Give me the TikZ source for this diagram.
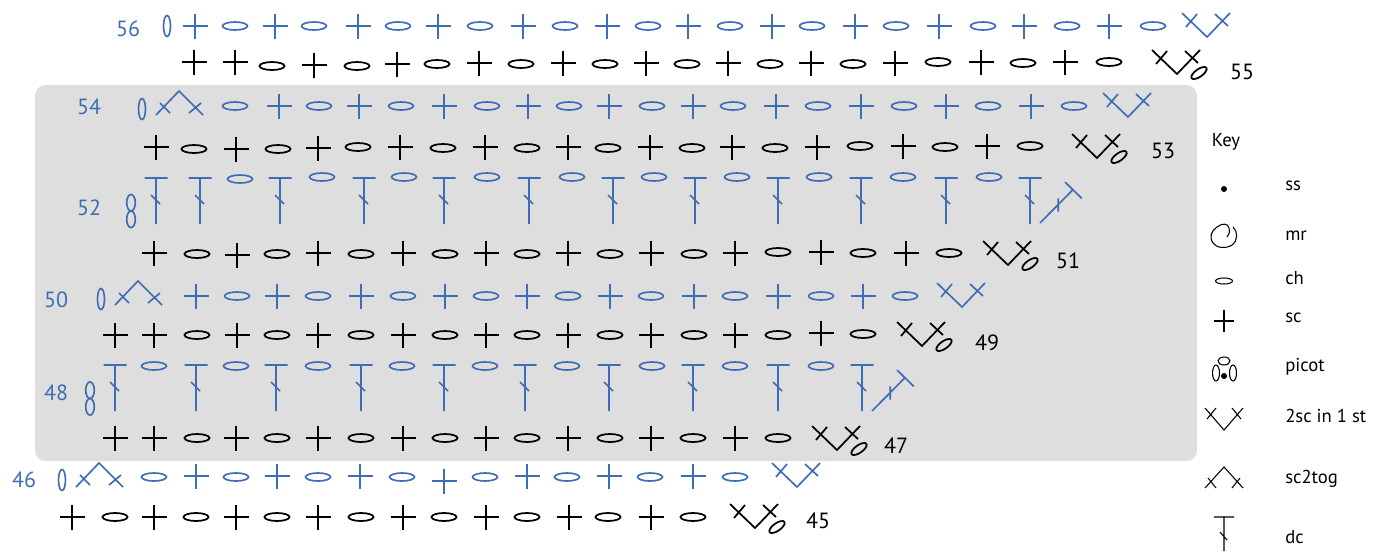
\documentclass[tikz,border=0pt]{standalone}
\usepackage{fontspec}
\setmainfont{PT Sans}
\definecolor{stblue}{HTML}{3F6DB5}
\definecolor{panel}{HTML}{DEDEDE}
\tikzset{
  x=0.75pt,y=-0.75pt,
  bluest/.style={draw=stblue,line width=1.25pt,color=stblue},
  blackst/.style={draw=black,line width=1.3pt},
  keyst/.style={draw=black,line width=0.8pt},
  rownum/.style={font=\fontsize{16.5}{18}\selectfont,text=stblue,inner sep=0pt},
  blacknum/.style={font=\fontsize{16.5}{18}\selectfont,text=black,inner sep=0pt},
  keytext/.style={font=\fontsize{14}{16}\selectfont,text=black,inner sep=0pt,anchor=west},
  scmark/.pic={\draw (-12.5,0) -- (12.5,0) (0,-12.5) -- (0,12.5);},
  chmark/.pic={\draw (0,0) ellipse [x radius=12.5,y radius=4];},
  turnone/.pic={\draw (0,0) ellipse [x radius=3.5,y radius=10.5];},
  turntwo/.pic={\draw (0,-8.3) ellipse [x radius=4.3,y radius=8.3] (0,8.3) ellipse [x radius=4.3,y radius=8.3];},
  incmark/.pic={\draw (-25,-24) -- (0,0) -- (23,-24) (-21,-10) -- (-10,-23) (8,-23) -- (21,-11);},
  incoval/.pic={\draw (-25,-24) -- (0,0) -- (23,-24) (-21,-10) -- (-10,-23) (8,-23) -- (21,-11);
     \draw[rotate around={35:(22,-1)}] (22,-1) ellipse [x radius=9,y radius=3.8];},
  decmark/.pic={\draw (-23,24) -- (0,0) -- (24,24) (-19,12) -- (-9,22) (10,22) -- (22,12);},
  dcmark/.pic={\draw (-11.5,0) -- (11.5,0) (0,0) -- (0,46) (-5,17) -- (4,26);},
  dcslant/.pic={\draw (0,0) -- (33.3,-33.7) (25,-41) -- (41.7,-24.7) (18.3,-24.7) -- (18.3,-11.3);},
}
\begin{document}
\begin{tikzpicture}
\useasboundingbox (0,0) rectangle (1384,551);
\fill[panel,rounded corners=8pt] (35,85) rectangle (1197,461);

% row 56
\foreach \x in {195,275,358,438,523,607,688,772,855,939,1024,1109} \pic[bluest] at (\x,26) {scmark};
\foreach \x in {235,314,398,480,565,648,730,812,896,983,1067,1153} \pic[bluest] at (\x,26) {chmark};
\pic[bluest] at (167,26) {turnone};
\pic[bluest] at (1207,37) {incmark};
\node[rownum] (n56) at (128,29) {56};
% row 55
\foreach \x/\y in {194/62,235/62,314/65,397/64,479/63,563/63,646/63,728/63,811/63,895/63,981/62,1065/62} \pic[blackst] at (\x,\y) {scmark};
\foreach \x/\y in {272/66,357/66,437/64,521/64,605/64,687/64,770/64,853/64,938/62,1023/63,1109/62} \pic[blackst] at (\x,\y) {chmark};
\pic[blackst] at (1177,74) {incoval};
\node[blacknum] (n55) at (1242,72) {55};
% row 54
\foreach \x in {279,359,444,528,609,693,776,861,946,1031} \pic[bluest] at (\x,106) {scmark};
\foreach \x in {235,319,401,487,569,652,733,818,904,988,1074} \pic[bluest] at (\x,106) {chmark};
\pic[bluest] at (142,109) {turnone};
\pic[bluest] at (179,91) {decmark};
\pic[bluest] at (1128,117) {incmark};
\node[rownum] (n54) at (89,107) {54};
% row 53
\foreach \x/\y in {156/147,236/149,318/148,400/147,485/147,568/147,650/147,732/147,817/147,903/146,987/146} \pic[blackst] at (\x,\y) {scmark};
\foreach \x/\y in {194/149,278/149,358/147,443/148,527/148,608/148,692/148,775/148,860/146,945/147,1030/146} \pic[blackst] at (\x,\y) {chmark};
\pic[blackst] at (1097,158) {incoval};
\node[blacknum] (n53) at (1163,151) {53};
% row 52
\foreach \x in {156,200,280,364,444,529,613,695,778,861,946,1030} \pic[bluest] at (\x,178) {dcmark};
\foreach \x/\y in {240/179,322/177,404/177,487/177,572/177,654/177,737/177,819/177,903/177,989/177} \pic[bluest] at (\x,\y) {chmark};
\pic[bluest] at (1040,223) {dcslant};
\pic[bluest] at (131,211) {turntwo};
\node[rownum] (n52) at (89,208) {52};
% row 51
\foreach \x/\y in {154/253,237/255,318/253,403/253,486/253,568/253,651/253,735/253,821/252,906/253} \pic[blackst] at (\x,\y) {scmark};
\foreach \x/\y in {197/254,277/254,361/254,445/254,527/254,610/254,694/254,778/252,863/253,949/253} \pic[blackst] at (\x,\y) {chmark};
\pic[blackst] at (1008,265) {incoval};
\node[blacknum] (n51) at (1068,261) {51};
% row 50
\foreach \x in {196,277,361,445,527,610,694,778,863} \pic[bluest] at (\x,296) {scmark};
\foreach \x in {237,318,403,486,568,651,735,821,905} \pic[bluest] at (\x,296) {chmark};
\pic[bluest] at (101,299) {turnone};
\pic[bluest] at (138,281) {decmark};
\pic[bluest] at (962,307) {incmark};
\node[rownum] (n50) at (56,300) {50};
% row 49
\foreach \x/\y in {115/335,154/335,237/335,318/335,403/335,486/335,568/335,651/335,735/335,821/333} \pic[blackst] at (\x,\y) {scmark};
\foreach \x/\y in {197/335,277/335,361/335,445/335,527/335,610/335,694/335,778/335,863/334} \pic[blackst] at (\x,\y) {chmark};
\pic[blackst] at (922,346) {incoval};
\node[blacknum] (n49) at (987,343) {49};
% row 48
\foreach \x in {115,196,276,361,444,525,609,693,778,862} \pic[bluest] at (\x,365) {dcmark};
\foreach \x in {154,236,318,402,485,567,652,735,821} \pic[bluest] at (\x,366) {chmark};
\pic[bluest] at (872,411) {dcslant};
\pic[bluest] at (90,398.5) {turntwo};
\node[rownum] (n48) at (56,393) {48};
% row 47
\foreach \x in {115,154,236,318,403,486,568,651,735} \pic[blackst] at (\x,438) {scmark};
\foreach \x in {197,277,361,445,527,610,693,778} \pic[blackst] at (\x,438) {chmark};
\pic[blackst] at (837,450) {incoval};
\node[blacknum] (n47) at (896,446) {47};
% row 46
\foreach \x in {196,277,360,527,609,693} \pic[bluest] at (\x,476) {scmark};
\pic[bluest] at (444,481) {scmark};
\foreach \x in {154,236,318,402,485,567,650,735} \pic[bluest] at (\x,477) {chmark};
\pic[bluest] at (62,480) {turnone};
\pic[bluest] at (99,463) {decmark};
\pic[bluest] at (797,487) {incmark};
\node[rownum] (n46) at (24,480) {46};
% row 45
\foreach \x in {72,154,236,318,403,486,569,651} \pic[blackst] at (\x,517) {scmark};
\foreach \x in {115,196,277,361,444,527,608,693} \pic[blackst] at (\x,517) {chmark};
\pic[blackst] at (755,528) {incoval};
\node[blacknum] (n45) at (818,521) {45};

% key
\node[blacknum,font=\fontsize{14}{16}\selectfont] (keyhead) at (1226,142) {Key};
\fill (1224,189) circle [radius=3];
\draw[keyst] (1233,227) .. controls (1238,231) and (1238,241) .. (1232,245) .. controls (1226,249) and (1216,248) .. (1213,243) .. controls (1209,237) and (1211,231) .. (1217,227) .. controls (1222,223) and (1228,223) .. (1229,228) .. controls (1230,232) and (1229,235) .. (1227,237);
\draw[keyst] (1224,281) ellipse [x radius=8.5,y radius=3];
\draw[keyst] (1214,321) -- (1234,321) (1224,310) -- (1224,332);
\draw[keyst] (1224,361) ellipse [x radius=6,y radius=4];
\draw[keyst] (1216,373) ellipse [x radius=3.5,y radius=8];
\draw[keyst] (1233,373) ellipse [x radius=3.5,y radius=8];
\fill (1224,376) circle [radius=3];
\draw[keyst] (1205,408) -- (1224,430) -- (1243,408) (1207,419) -- (1216,408) (1232,408) -- (1241,419);
\draw[keyst] (1205,488) -- (1224,467) -- (1243,488) (1208,478) -- (1216,488) (1232,488) -- (1240,478);
\draw[keyst] (1214,517) -- (1234,517) (1224,517) -- (1224,551) (1220,532) -- (1227,540);
\node[keytext] (kss) at (1285,186) {ss};
\node[keytext] (kmr) at (1285,236) {mr};
\node[keytext] (kch) at (1285,278) {ch};
\node[keytext] (ksc) at (1285,318) {sc};
\node[keytext] (kpicot) at (1285,367) {picot};
\node[keytext] (k2sc) at (1285,416) {2sc in 1 st};
\node[keytext] (ksc2) at (1285,479) {sc2tog};
\node[keytext] (kdc) at (1285,537) {dc};
\end{tikzpicture}
\end{document}
